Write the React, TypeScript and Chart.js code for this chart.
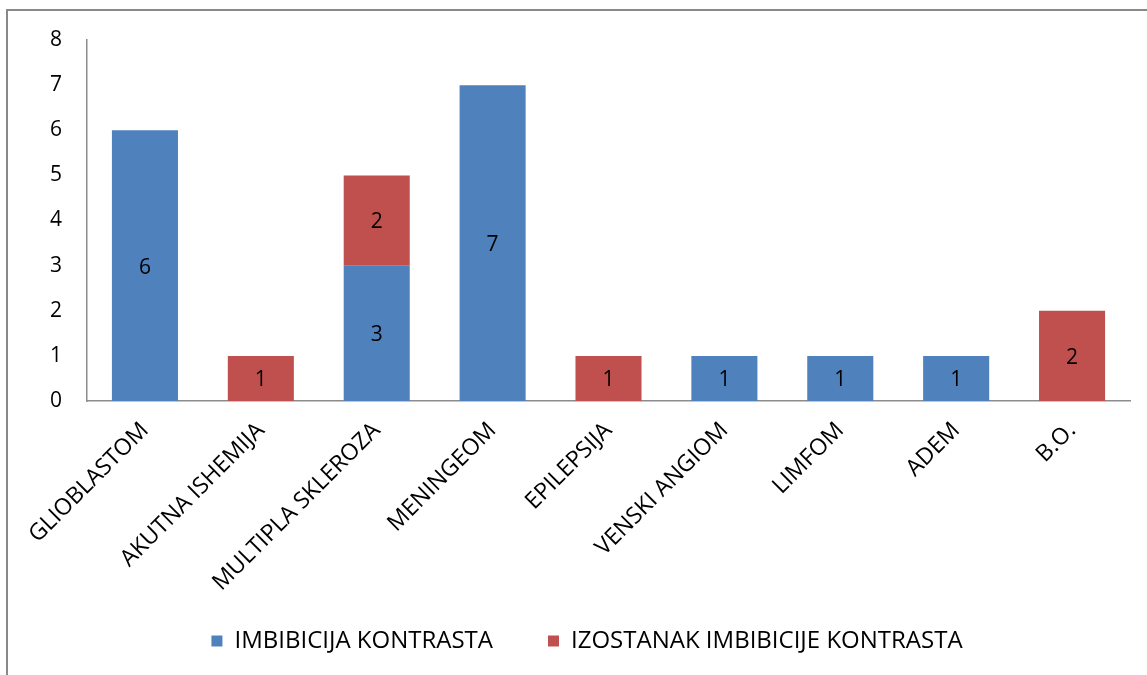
import React, { useEffect, useRef } from "react";
import { Chart, registerables } from "chart.js";

Chart.register(...registerables);

const categories = [
  "GLIOBLASTOM",
  "AKUTNA ISHEMIJA",
  "MULTIPLA SKLEROZA",
  "MENINGEOM",
  "EPILEPSIJA",
  "VENSKI ANGIOM",
  "LIMFOM",
  "ADEM",
  "B.O.",
];
const imbibicija = [6, 0, 3, 7, 0, 1, 1, 1, 0];
const izostanak = [0, 1, 2, 0, 1, 0, 0, 0, 2];
const seriesNames = ["IMBIBICIJA KONTRASTA", "IZOSTANAK IMBIBICIJE KONTRASTA"];
const yTicks = [0, 1, 2, 3, 4, 5, 6, 7, 8];

const FONT = "'Open Sans', 'Noto Sans', sans-serif";

const valueLabels = {
  id: "valueLabels",
  afterDatasetsDraw(chart: any) {
    const ctx = chart.ctx;
    ctx.save();
    ctx.fillStyle = "#000";
    ctx.font = `21px ${FONT}`;
    ctx.textAlign = "center";
    ctx.textBaseline = "middle";
    chart.data.datasets.forEach((ds: any, i: number) => {
      const meta = chart.getDatasetMeta(i);
      meta.data.forEach((bar: any, j: number) => {
        const v = ds.data[j];
        if (!v) return;
        const yMid = (bar.y + bar.base) / 2;
        ctx.fillText(String(v), bar.x, yMid + 2);
      });
    });
    ctx.restore();
  },
};

export default function App() {
  const ref = useRef<HTMLCanvasElement>(null);
  useEffect(() => {
    if (!ref.current) return;
    const chart = new Chart(ref.current, {
      type: "bar",
      data: {
        labels: categories,
        datasets: [
          {
            label: seriesNames[0],
            data: imbibicija,
            backgroundColor: "#4F81BD",
            barPercentage: 0.57,
            categoryPercentage: 1,
          },
          {
            label: seriesNames[1],
            data: izostanak,
            backgroundColor: "#C0504D",
            barPercentage: 0.57,
            categoryPercentage: 1,
          },
        ],
      },
      options: {
        animation: false,
        responsive: false,
        layout: { padding: { left: 44, top: 40, right: 17, bottom: 12 } },
        plugins: {
          legend: {
            position: "bottom",
            labels: {
              boxWidth: 11,
              boxHeight: 11,
              color: "#000",
              font: { family: FONT, size: 24 },
              padding: 55,
            },
          },
          tooltip: { enabled: false },
        },
        scales: {
          x: {
            stacked: true,
            grid: { display: false, drawTicks: false },
            border: { display: true, color: "#8c8c8c", width: 1.5 },
            ticks: {
              color: "#000",
              font: { family: FONT, size: 23 },
              maxRotation: 45,
              minRotation: 45,
              padding: 16,
              labelOffset: 0,
              autoSkip: false,
            },
            afterFit(scale: any) {
              scale.height = 173;
            },
            afterUpdate(scale: any) {
              scale._computeLabelArea = () => undefined;
            },
          },
          y: {
            stacked: true,
            min: 0,
            max: 8,
            grid: { display: false, drawTicks: false },
            border: { display: true, color: "#8c8c8c", width: 1.5 },
            afterBuildTicks(scale: any) {
              scale.ticks = yTicks.map((v) => ({ value: v }));
            },
            ticks: {
              color: "#000",
              font: { family: FONT, size: 21 },
              padding: 25,
            },
            afterFit(scale: any) {
              scale.width = 43;
            },
          },
        },
      },
      plugins: [valueLabels],
    });
    return () => chart.destroy();
  }, []);

  return (
    <div
      style={{
        position: "fixed",
        left: 0,
        top: 0,
        width: 1147,
        height: 675,
        overflow: "hidden",
        background: "#fff",
      }}
    >
      <div
        style={{
          position: "absolute",
          left: 6,
          top: 9,
          width: 1200,
          height: 720,
          border: "2px solid #898989",
        }}
      />
      <canvas
        ref={ref}
        width={1147}
        height={675}
        style={{ position: "absolute", left: 0, top: 0 }}
      />
    </div>
  );
}
